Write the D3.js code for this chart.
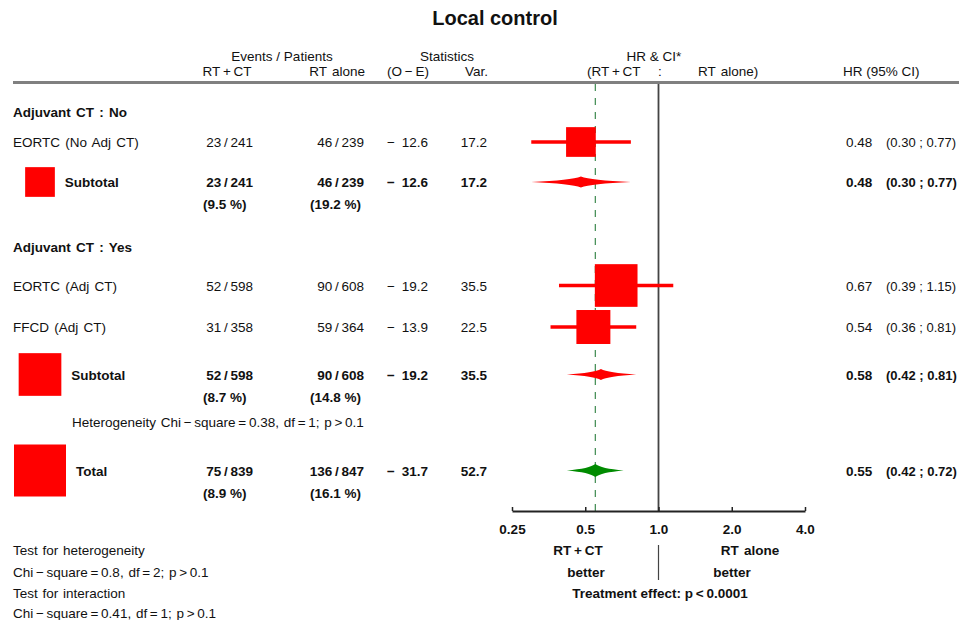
<!DOCTYPE html>
<html><head><meta charset="utf-8">
<script src="https://cdn.jsdelivr.net/npm/d3@7"></script>
<style>
html,body{margin:0;padding:0;background:#fff;}
svg{display:block;font-family:"Liberation Sans",Arial,Helvetica,sans-serif;}
</style></head><body>
<svg id="chart" width="959" height="620"></svg>
<script>
// ---- data: studies, subgroup subtotals and overall total ----
const rowLabels   = ["EORTC (No Adj CT)", "Subtotal", "EORTC (Adj CT)", "FFCD (Adj CT)", "Subtotal", "Total"];
const rowKinds    = ["study", "subtotal", "study", "study", "subtotal", "total"];
const eventsRTCT  = [23, 23, 52, 31, 52, 75];
const patientsRTCT = [241, 241, 598, 358, 598, 839];
const eventsRT    = [46, 46, 90, 59, 90, 136];
const patientsRT  = [239, 239, 608, 364, 608, 847];
const pctRTCT     = [null, "9.5", null, null, "8.7", "8.9"];
const pctRT       = [null, "19.2", null, null, "14.8", "16.1"];
const oMinusE     = [-12.6, -12.6, -19.2, -13.9, -19.2, -31.7];
const variances   = [17.2, 17.2, 35.5, 22.5, 35.5, 52.7];
const hazardRatio = [0.48, 0.48, 0.67, 0.54, 0.58, 0.55];
const ciLow       = [0.30, 0.30, 0.39, 0.36, 0.42, 0.42];
const ciHigh      = [0.77, 0.77, 1.15, 0.81, 0.81, 0.72];
const groupHeaders = ["Adjuvant CT : No", "Adjuvant CT : Yes"];
const axisTicks   = [0.25, 0.5, 1, 2, 4];
const axisTickLabels = ["0.25", "0.5", "1.0", "2.0", "4.0"];
const heterogeneityNote = "Heterogeneity Chi\u2212square=0.38, df=1; p>0.1";
const footLines = ["Test for heterogeneity", "Chi\u2212square=0.8, df=2; p>0.1",
                   "Test for interaction", "Chi\u2212square=0.41, df=1; p>0.1"];

// ---- layout ----
const rowY = [142, 182, 285.5, 327, 374.5, 470.5];
const groupY = [112, 247];
const hetY = 422;
const footY = [555, 576.5, 598, 618];
const fs = 13.5;
const ink = "#111";
const TS = "\u2009"; // thin space around operators, as in math-style labels

// put thin spaces around binary operators
const spaced = s => s.replace(/([=<>+\u2212\/])/g, TS + "$1" + TS);

const svg = d3.select("#chart");

const x = d3.scaleLog().base(2).domain([0.25, 4]).range([512, 805]);
const boxSize = d3.scaleSqrt().domain([0, 52.7]).range([0, 52]);

const rows = rowLabels.map((label, i) => ({
  label, kind: rowKinds[i], y: rowY[i],
  e1: eventsRTCT[i], n1: patientsRTCT[i], e2: eventsRT[i], n2: patientsRT[i],
  p1: pctRTCT[i], p2: pctRT[i], oe: oMinusE[i], v: variances[i],
  hr: hazardRatio[i], lo: ciLow[i], hi: ciHigh[i]
}));

function txt(g, xp, yp, s, opts = {}) {
  const t = g.append("text")
    .attr("x", xp).attr("y", yp)
    .attr("font-size", opts.size || fs)
    .attr("font-weight", opts.bold ? "bold" : "normal")
    .attr("text-anchor", opts.anchor || "start")
    .attr("fill", ink)
    .text(s);
  if (opts.ws) t.attr("word-spacing", opts.ws);
  return t;
}
const signed = v => (v < 0 ? "\u2212\u2002" : "") + Math.abs(v).toFixed(1);

// title
txt(svg, 495, 25, "Local control", {size: 20, bold: true, anchor: "middle"});

// column headers
const head = svg.append("g");
txt(head, 282, 60.5, "Events / Patients", {anchor: "middle"});
txt(head, 227, 76, spaced("RT+CT"), {anchor: "middle"});
txt(head, 365, 76, "RT alone", {anchor: "end", ws: 1.5});
txt(head, 447, 60.5, "Statistics", {anchor: "middle"});
txt(head, 408, 76, spaced("(O\u2212E)"), {anchor: "middle"});
txt(head, 488, 76, "Var.", {anchor: "end"});
txt(head, 654, 60.5, "HR & CI*", {anchor: "middle"});
txt(head, 587, 76, spaced("(RT+CT"));
txt(head, 660, 76, ":", {anchor: "middle"});
txt(head, 698, 76, "RT alone)", {ws: 1.5});
txt(head, 843, 76, "HR (95% CI)");

svg.append("line").attr("x1", 13).attr("x2", 959).attr("y1", 82.5).attr("y2", 82.5)
  .attr("stroke", "#808080").attr("stroke-width", 3);

// group headings
groupHeaders.forEach((g, i) => txt(svg, 13, groupY[i] + 5, g, {bold: true, ws: 1.5}));

// reference lines: no effect at HR = 1, dashed at overall HR
svg.append("line").attr("x1", x(1)).attr("x2", x(1)).attr("y1", 84).attr("y2", 511)
  .attr("stroke", "#444").attr("stroke-width", 1.8);
svg.append("line").attr("x1", x(hazardRatio[5])).attr("x2", x(hazardRatio[5]))
  .attr("y1", 84).attr("y2", 511)
  .attr("stroke", "#3d8a4f").attr("stroke-width", 1.2).attr("stroke-dasharray", "7,7");

// text columns
const tg = svg.append("g");
rows.forEach(r => {
  const b = r.kind !== "study";
  const ty = r.y + 5;
  if (r.kind === "study") {
    txt(tg, 13, ty, r.label, {ws: 1.5});
  } else {
    const s = boxSize(r.v);
    svg.append("rect").attr("x", 40 - s / 2).attr("y", r.y - s / 2)
      .attr("width", s).attr("height", s).attr("fill", "#ff0000");
    txt(tg, 40 + s / 2 + 10, ty, r.label, {bold: true});
  }
  txt(tg, 253, ty, `${r.e1}${TS}/${TS}${r.n1}`, {bold: b, anchor: "end"});
  txt(tg, 364, ty, `${r.e2}${TS}/${TS}${r.n2}`, {bold: b, anchor: "end"});
  txt(tg, 428, ty, signed(r.oe), {bold: b, anchor: "end"});
  txt(tg, 487, ty, r.v.toFixed(1), {bold: b, anchor: "end"});
  if (r.p1) txt(tg, 203, ty + 22, `(${r.p1} %)`, {bold: true});
  if (r.p2) txt(tg, 310, ty + 22, `(${r.p2} %)`, {bold: true});
  txt(tg, 846, ty, r.hr.toFixed(2), {bold: b});
  txt(tg, 886, ty, `(${r.lo.toFixed(2)} ; ${r.hi.toFixed(2)})`, {bold: b, size: 13});
});
txt(tg, 72, hetY + 5, spaced(heterogeneityNote), {ws: 1});
footLines.forEach((l, i) => txt(tg, 13, footY[i], spaced(l), {ws: 1}));

// forest marks
const marks = svg.append("g");
rows.forEach(r => {
  if (r.kind === "study") {
    marks.append("line").attr("x1", x(r.lo)).attr("x2", x(r.hi))
      .attr("y1", r.y).attr("y2", r.y).attr("stroke", "#ff0000").attr("stroke-width", 3.5);
    const s = boxSize(r.v);
    marks.append("rect").attr("x", x(r.hr) - s / 2).attr("y", r.y - s / 2)
      .attr("width", s).attr("height", s).attr("fill", "#ff0000");
  } else {
    const h = r.kind === "total" ? 6.5 : 5.5;
    const l = x(r.lo), c = x(r.hr), u = x(r.hi), y = r.y;
    const p = d3.path();
    p.moveTo(l, y);
    p.quadraticCurveTo(c - (c - l) * 0.2, y - h * 0.3, c, y - h);
    p.quadraticCurveTo(c + (u - c) * 0.2, y - h * 0.3, u, y);
    p.quadraticCurveTo(c + (u - c) * 0.2, y + h * 0.3, c, y + h);
    p.quadraticCurveTo(c - (c - l) * 0.2, y + h * 0.3, l, y);
    p.closePath();
    marks.append("path").attr("d", p.toString())
      .attr("fill", r.kind === "total" ? "#008b00" : "#ff0000");
  }
});

// HR axis
const axis = d3.axisBottom(x).tickValues(axisTicks)
  .tickFormat((d, i) => axisTickLabels[i]).tickSizeInner(-4).tickSizeOuter(0).tickPadding(13);
const ag = svg.append("g").attr("transform", "translate(0,511)").call(axis);
ag.select(".domain").attr("stroke", "#222").attr("stroke-width", 1.8);
ag.selectAll(".tick line").attr("stroke", "#222").attr("stroke-width", 1.5);
ag.selectAll(".tick text").attr("font-size", fs).attr("font-weight", "bold")
  .attr("font-family", '"Liberation Sans",Arial,sans-serif').attr("fill", ink);

// direction labels below the axis
txt(svg, 578, 555, spaced("RT+CT"), {bold: true, anchor: "middle"});
txt(svg, 586, 576.5, "better", {bold: true, anchor: "middle"});
txt(svg, 750, 555, "RT alone", {bold: true, anchor: "middle", ws: 1.5});
txt(svg, 732, 576.5, "better", {bold: true, anchor: "middle"});
svg.append("line").attr("x1", x(1)).attr("x2", x(1)).attr("y1", 545).attr("y2", 580)
  .attr("stroke", "#444").attr("stroke-width", 1.2);
txt(svg, 660, 598, spaced("Treatment effect: p<0.0001"), {bold: true, anchor: "middle"});
</script>
</body></html>
